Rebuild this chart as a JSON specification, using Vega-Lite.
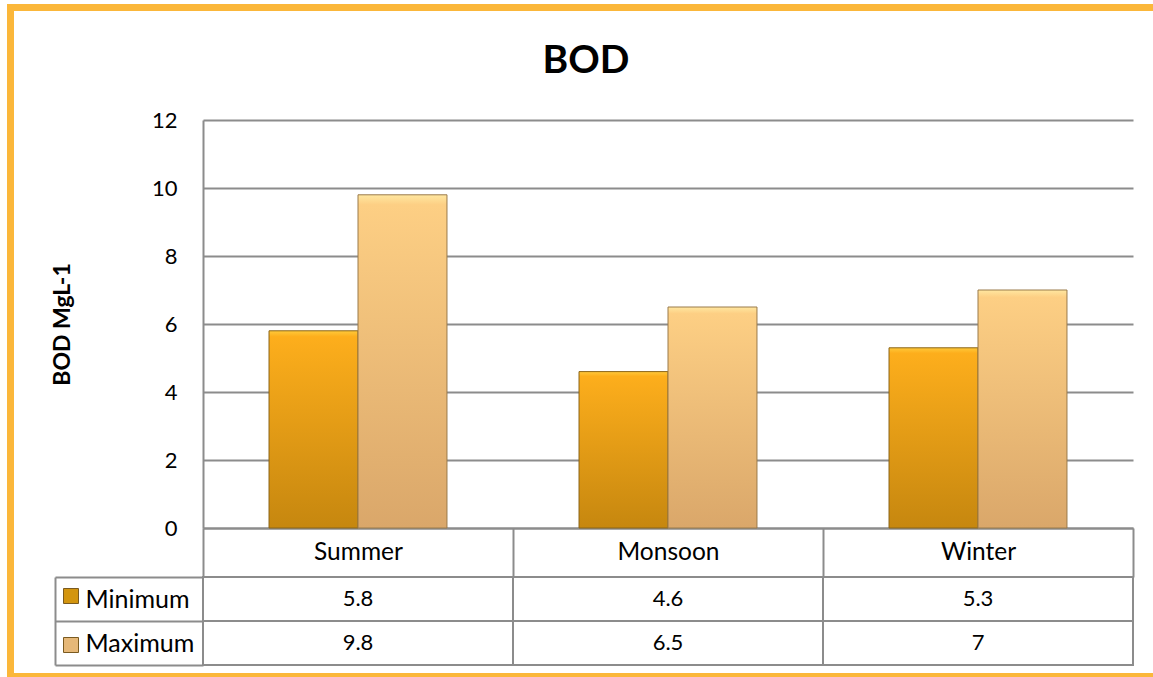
{
  "$schema": "https://vega.github.io/schema/vega-lite/v6.json",
  "background": "white",
  "padding": {"left": 10, "top": 7, "right": 0, "bottom": 0},
  "title": {"text": "BOD", "fontSize": 39, "font": "Lato", "fontWeight": "bold", "color": "#000000", "anchor": "middle", "frame": "bounds", "offset": -73, "dx": -14},
  "config": {
    "font": "Lato",
    "view": {"stroke": null},
    "axis": {"labelFont": "Lato", "titleFont": "Lato", "labelColor": "#000000", "titleColor": "#000000"}
  },
  "datasets": {
    "bod": [
      {"season": "Summer", "series": "Minimum", "value": 5.8},
      {"season": "Summer", "series": "Maximum", "value": 9.8},
      {"season": "Monsoon", "series": "Minimum", "value": 4.6},
      {"season": "Monsoon", "series": "Maximum", "value": 6.5},
      {"season": "Winter", "series": "Minimum", "value": 5.3},
      {"season": "Winter", "series": "Maximum", "value": 7}
    ]
  },
  "spacing": 49,
  "bounds": "flush",
  "resolve": {"scale": {"x": "independent", "y": "independent"}},
  "vconcat": [
    {
      "width": 930,
      "height": 408,
      "data": {"name": "bod"},
      "encoding": {
        "x": {
          "field": "season", "type": "nominal", "sort": ["Summer", "Monsoon", "Winter"],
          "scale": {"paddingInner": 0, "paddingOuter": 0},
          "axis": {"title": null, "orient": "bottom", "labelAngle": 0, "labelFontSize": 24.5, "labelBaseline": "middle", "labelPadding": -25, "tickBand": "extent", "tickSize": 49, "tickColor": "#8c8c8c", "tickWidth": 2, "domainColor": "#8c8c8c", "domainWidth": 2, "grid": false}
        },
        "xOffset": {
          "field": "series", "type": "nominal", "sort": ["Minimum", "Maximum"],
          "scale": {"paddingInner": 0, "paddingOuter": 0.742}
        },
        "y": {
          "field": "value", "type": "quantitative",
          "scale": {"domain": [0, 12]},
          "axis": {"values": [0, 2, 4, 6, 8, 10, 12], "title": "BOD MgL-1", "titleFontSize": 23, "titleFontWeight": "bold", "titlePadding": 77, "labelFontSize": 22, "labelPadding": 26, "ticks": false, "domainColor": "#8c8c8c", "domainWidth": 2, "grid": true, "gridColor": "#8c8c8c", "gridWidth": 2}
        }
      },
      "layer": [
        {
          "transform": [{"filter": "datum.series === 'Minimum'"}],
          "mark": {"type": "bar", "stroke": "#8a6418", "strokeWidth": 1,
            "fill": {"gradient": "linear", "x1": 0, "y1": 0, "x2": 0, "y2": 1, "stops": [{"offset": 0, "color": "#FFC93A"}, {"offset": 0.03, "color": "#FDAE1C"}, {"offset": 1, "color": "#C6870F"}]}}
        },
        {
          "transform": [{"filter": "datum.series === 'Maximum'"}],
          "mark": {"type": "bar", "stroke": "#9a7a4a", "strokeWidth": 1,
            "fill": {"gradient": "linear", "x1": 0, "y1": 0, "x2": 0, "y2": 1, "stops": [{"offset": 0, "color": "#FFE7A0"}, {"offset": 0.03, "color": "#FDCF84"}, {"offset": 1, "color": "#DAA76A"}]}}
        },
        {
          "mark": {"type": "bar", "opacity": 0},
          "encoding": {
            "color": {
              "field": "series", "type": "nominal",
              "scale": {"domain": ["Minimum", "Maximum"], "range": ["#D3950F", "#E6B878"]},
              "legend": {"orient": "none", "legendX": -140, "legendY": 468, "title": null, "symbolType": "square", "symbolSize": 225, "labelExpr": "''", "labelFontSize": 1, "rowPadding": 29, "padding": 0, "offset": 0, "symbolStrokeWidth": 1, "symbolStrokeColor": "#7a5a20", "symbolOpacity": 1}
            }
          }
        },
        {
          "mark": {"type": "bar", "fillOpacity": 0, "strokeOpacity": 0},
          "encoding": {
            "fill": {
              "field": "value", "type": "quantitative",
              "scale": {"range": ["rgba(255,255,255,0)", "rgba(255,255,255,0)"]},
              "legend": {"orient": "none", "legendX": -192.5, "legendY": -112.5, "title": null, "direction": "horizontal", "gradientLength": 1175, "gradientThickness": 669, "gradientStrokeColor": "#FBB73A", "gradientStrokeWidth": 7, "labelExpr": "''", "labelOpacity": 0, "labelFontSize": 1, "padding": 0, "offset": 0}
            }
          }
        }
      ]
    },
    {
      "width": 930,
      "height": 88,
      "data": {"name": "bod"},
      "encoding": {
        "x": {"field": "season", "type": "nominal", "sort": ["Summer", "Monsoon", "Winter"], "scale": {"paddingInner": 0, "paddingOuter": 0}, "axis": null},
        "y": {
          "field": "series", "type": "nominal", "sort": ["Minimum", "Maximum"],
          "scale": {"paddingInner": 0, "paddingOuter": 0},
          "axis": {"title": null, "orient": "left", "offset": 148, "tickBand": "extent", "tickSize": -148, "tickColor": "#8c8c8c", "tickWidth": 2, "domainColor": "#8c8c8c", "domainWidth": 2, "labelAlign": "left", "labelBaseline": "middle", "labelPadding": 118, "labelFontSize": 25}
        }
      },
      "layer": [
        {"mark": {"type": "rect", "fill": "white", "stroke": "#8c8c8c", "strokeWidth": 2}},
        {"mark": {"type": "text", "fontSize": 22, "font": "Lato", "color": "#000000"}, "encoding": {"text": {"field": "value", "type": "nominal"}}}
      ]
    }
  ]
}
